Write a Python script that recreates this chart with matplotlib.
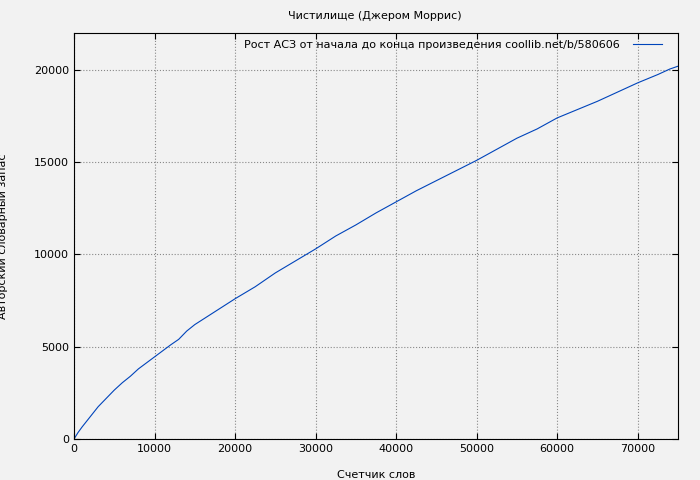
import matplotlib
matplotlib.use("Agg")
import matplotlib.pyplot as plt

words = [0, 500, 1000, 2000, 3000, 4000, 5000, 6000, 7000, 8000, 10000, 12000, 13000, 14000, 15000, 17500, 20000, 22500, 25000, 27500, 30000, 32500, 35000, 37500, 40000, 42500, 45000, 47500, 50000, 52500, 55000, 57500, 60000, 62500, 65000, 67500, 70000, 72500, 74000, 75000]
vocab = [0, 350, 650, 1200, 1750, 2200, 2650, 3050, 3400, 3800, 4450, 5100, 5400, 5850, 6200, 6900, 7600, 8250, 9000, 9650, 10300, 11000, 11600, 12250, 12850, 13450, 14000, 14550, 15100, 15700, 16300, 16800, 17400, 17850, 18300, 18800, 19300, 19750, 20050, 20200]

plt.rcParams['font.family'] = ['DejaVu Sans']
plt.rcParams['font.size'] = 8
fig = plt.figure(figsize=(7, 4.8), dpi=100, facecolor='#f2f2f2')
ax = fig.add_axes([74/700, 1-439/480, 604/700, 406/480], facecolor='#f2f2f2')
ax.plot(words, vocab, color='#0044bb', lw=0.8,
        label='Рост АСЗ от начала до конца произведения coollib.net/b/580606')
ax.set_xlim(0, 75000)
ax.set_ylim(0, 22000)
ax.set_xticks(range(0, 75001, 10000))
ax.set_yticks(range(0, 20001, 5000))
ax.grid(True, color='#888888', linestyle=':', lw=0.8)
ax.tick_params(direction='in', length=4, top=True, right=True)
ax.set_xlabel('Счетчик слов', fontsize=8)
ax.set_ylabel('Авторский словарный запас', fontsize=8)
ax.yaxis.set_label_coords(-0.109, 0.5)
ax.xaxis.set_label_coords(0.5, -0.076)
fig.text(375/700, 1-16/480, 'Чистилище (Джером Моррис)', ha='center', va='center', fontsize=8)
leg = ax.legend(loc='upper right', frameon=False, markerfirst=False, handlelength=2.6,
                borderaxespad=0.2, handletextpad=1.2, bbox_to_anchor=(0.985, 1.0))
fig.savefig('out.png', dpi=100, facecolor=fig.get_facecolor())
